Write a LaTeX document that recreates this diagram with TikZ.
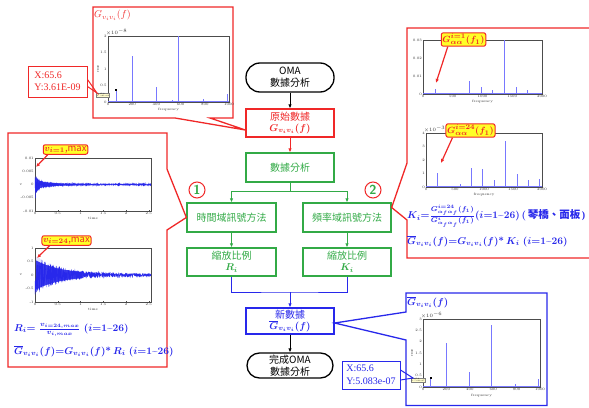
\documentclass[tikz,border=0pt]{standalone}
\usepackage{amsmath,bm}
\usepackage{fontspec}
\usetikzlibrary{arrows.meta,calc}
\newfontfamily\cjk{Noto Sans CJK TC}
\newfontfamily\tnr{Liberation Serif}
\definecolor{cR}{RGB}{240,40,40}
\definecolor{cG}{RGB}{50,170,70}
\definecolor{cB}{RGB}{40,40,235}
\definecolor{spec}{RGB}{120,120,255}
\definecolor{bub}{RGB}{255,255,40}
\tikzset{
 fbox/.style={draw, line width=1.3pt, minimum width=88pt, minimum height=28pt, align=center, inner sep=1pt, font=\cjk\fontsize{10}{12}\selectfont, fill=white},
 term/.style={fbox, rounded corners=14pt, draw=black, text=black},
 arr/.style={-{Latex[length=4pt,width=3.5pt]}, line width=1pt},
 frm/.style={line width=1.3pt, line join=miter},
 axbx/.style={draw=black!70, line width=0.4pt},
 tklab/.style={font=\fontsize{3.6}{4}\selectfont, inner sep=0.6pt, text=black!80},
 spk/.style={draw=spec, line width=0.7pt},
 bubble/.style={draw=cR, line width=1pt, fill=bub, rounded corners=2pt, text=cR, font=\cjk\fontsize{9.5}{10}\selectfont\boldmath, inner sep=1.2pt},
 circnum/.style={circle, draw=cR, line width=1pt, text=cG, minimum size=16pt, inner sep=0pt, font=\sffamily\bfseries\fontsize{13}{13}\selectfont},
 dtip/.style={line width=1pt, font=\tnr\fontsize{10}{12.5}\selectfont, align=left, inner sep=1pt, anchor=center},
 fml/.style={anchor=west, text=cB, inner sep=0pt, font=\fontsize{10}{12}\selectfont\bfseries\boldmath},
 tinytip/.style={draw=black!50, fill=yellow!20, inner sep=0.4pt, font=\fontsize{1.8}{2.2}\selectfont, align=left},
 mk/.style={fill=black, inner sep=0pt, minimum size=2pt},
}
\begin{document}
\begin{tikzpicture}[x=1pt,y=-1pt]
\useasboundingbox[fill=white] (0,0) rectangle (589,407);
\pgfmathsetseed{7}

% ---------- flow chart ----------
\node[term, minimum height=29pt] (oma) at (290,77.5) {OMA\\數據分析};
\node[fbox, draw=cR, text=cR] (raw) at (290,123) {原始數據\\[-1pt]$\bm{G_{v_iv_i}(f)}$};
\node[fbox, draw=cG, text=cG, minimum height=29pt] (ana) at (290,167.5) {數據分析};
\node[fbox, draw=cG, text=cG, minimum width=89pt, minimum height=29pt] (tdm) at (231.5,217.5) {時間域訊號方法};
\node[fbox, draw=cG, text=cG, minimum height=29pt] (fdm) at (347,217.5) {頻率域訊號方法};
\node[fbox, draw=cG, text=cG, minimum width=89pt] (scR) at (231.5,262) {縮放比例\\[-1pt]$\bm{R_i}$};
\node[fbox, draw=cG, text=cG] (scK) at (347,262) {縮放比例\\[-1pt]$\bm{K_i}$};
\node[fbox, draw=cB, text=cB, minimum height=26pt] (new) at (290,321) {新數據\\[-1pt]$\bm{\overline{G}_{v_iv_i}(f)}$};
\node[term, minimum width=86pt, minimum height=25pt, rounded corners=12.5pt] (done) at (290,365.5) {完成OMA\\數據分析};

\draw[arr] (oma) -- (raw);
\draw[arr, cR] (raw) -- (ana);
\coordinate (sp) at (290,191);
\draw[cG, line width=1pt] (ana) -- (sp);
\draw[arr, cG] (sp) -| (tdm);
\draw[arr, cG] (sp) -| (fdm);
\draw[arr, cG] (tdm) -- (scR);
\draw[arr, cG] (fdm) -- (scK);
\coordinate (jn) at (290,292);
\draw[cB, line width=1pt] (scR) |- (jn) -| (scK);
\draw[arr, cB] (jn) -- (new);
\draw[arr] (new) -- (done);

\node[circnum] (n1) at (197,190) {1};
\node[circnum] (n2) at (373,190) {2};

% ---------- callout frames ----------
\coordinate (tipA) at ($(raw.west)+(0,7)$);
\draw[frm, cR] (93,7) -- (233,7) -- (233,118) -- (210,118) -- (tipA) -- (175,118) -- (93,118) -- cycle;
\coordinate (tipB) at ($(fdm.east)+(0,-10)$);
\draw[frm, cR] (592,28) -- (407,28) -- (407,163) -- (tipB) -- (407,220) -- (407,258) -- (592,258);
\coordinate (tipC) at (tdm.west);
\draw[frm, cR] (8,133) -- (167,133) -- (167,169) -- (tipC) -- (167,230) -- (167,367) -- (8,367) -- cycle;
\coordinate (tipD) at ($(new.east)+(0,2)$);
\draw[frm, cB] (406,293) -- (547,293) -- (547,405.5) -- (406,405.5) -- (406,340) -- (tipD) -- (406,312) -- cycle;

% ---------- chart A (top left, red) ----------
\node[anchor=west, text=cR, inner sep=0pt, font=\fontsize{10}{12}\selectfont] (ttlA) at (94,15) {$G_{v_iv_i}(f)$};
\draw[axbx] (108,36) rectangle (229,102);
\foreach \f [count=\k] in {0,200,400,600,800,1000} {
  \draw[black!70, line width=0.3pt] ({108+0.121*\f},102) -- ++(0,-1.2);
  \node[tklab, anchor=north] (ax\k) at ({108+0.121*\f},102.5) {\f};}
\foreach \v [count=\k] in {0,0.5,1,1.5,2} \node[tklab, anchor=east] (ay\k) at (107.5,{102-33*\v}) {\v};
\node[tklab, anchor=south west] (ae) at (105,36) {$\times10^{-8}$};
\node[tklab, rotate=90] (ar) at (98,69) {rms};
\node[tklab] (af) at (168.5,110) {frequency};
\draw[spk, line width=0.4pt] (108,101.3) -- (229,101.3);
\foreach \f/\a in {65/0.35, 200/1.4, 400/0.45, 530/0.05, 580/2.0, 790/0.1, 985/0.25}
  \draw[spk] ({108+0.121*\f},102) -- ++(0,{-33*\a});
\node[mk] (mkA) at ({108+0.121*65},{102-33*0.35}) {};
\node[tinytip] (ttA) at (103,95) {X: 65.6\\Y: 3.61e-09};
\node[dtip, draw=cR, text=cR, minimum width=59pt, minimum height=31pt] (dtA) at (57.5,81.5) {X:65.6\\Y:3.61E-09};
\coordinate (ptA) at (97,93);
\draw[cR, line width=1pt] ($(dtA.east)+(0,-2)$) -- (ptA) -- ($(dtA.east)+(0,5)$);

% ---------- chart B (bottom right, blue) ----------
\node[anchor=west, text=cB, inner sep=0pt, font=\fontsize{10}{12}\selectfont\boldmath] (ttlB) at (407,302) {$\overline{G}_{v_iv_i}(f)$};
\draw[axbx] (423,319) rectangle (540,387);
\foreach \f [count=\k] in {0,200,400,600,800,1000} {
  \draw[black!70, line width=0.3pt] ({423+0.117*\f},387) -- ++(0,-1.2);
  \node[tklab, anchor=north] (bx\k) at ({423+0.117*\f},387.5) {\f};}
\foreach \v [count=\k] in {0,0.5,1,1.5,2,2.5,3} \node[tklab, anchor=east] (by\k) at (422.5,{387-22.67*\v}) {\v};
\node[tklab, anchor=south west] (be) at (420,319) {$\times10^{-6}$};
\node[tklab, rotate=90] (br) at (412,353) {rms};
\node[tklab] (bf) at (481.5,396) {frequency};
\draw[spk, line width=0.4pt] (423,386.3) -- (540,386.3);
\foreach \f/\a in {65/0.4, 200/1.95, 400/0.65, 530/0.05, 580/2.75, 790/0.15, 985/0.35}
  \draw[spk] ({423+0.117*\f},387) -- ++(0,{-22.67*\a});
\node[mk] (mkB) at ({423+0.117*65},{387-22.67*0.4}) {};
\node[tinytip] (ttB) at (418,380) {X: 65.6\\Y: 5.083e-07};
\node[dtip, draw=cB, text=cB, minimum width=58pt, minimum height=28pt] (dtB) at (371,375) {X:65.6\\Y:5.083e-07};
\coordinate (ptB) at (413,378);
\draw[cB, line width=1pt] ($(dtB.east)+(0,-5)$) -- (ptB) -- ($(dtB.east)+(0,5)$);

% ---------- chart C (right top) ----------
\draw[axbx] (423,40) rectangle (542,94);
\foreach \f [count=\k] in {0,500,1000,1500,2000} {
  \draw[black!70, line width=0.3pt] ({423+0.0595*\f},94) -- ++(0,-1.2);
  \node[tklab, anchor=north] (cx\k) at ({423+0.0595*\f},94.5) {\f};}
\foreach \v/\lab [count=\k] in {0/0,1/0.01,2/0.02,3/0.03} \node[tklab, anchor=east] (cy\k) at (422.5,{94-18*\v}) {\lab};
\node[tklab] (cf) at (482.5,102) {frequency};
\draw[spk, line width=0.4pt] (423,93.3) -- (542,93.3);
\foreach \f/\a in {200/3, 400/0.6, 590/0.6, 780/7.5, 980/4, 1170/2.5, 1370/30, 1570/4, 1760/2, 1960/0.8}
  \draw[spk] ({423+0.0595*\f},94) -- ++(0,{-1.8*\a});
\node[bubble] (bC) at (463.5,39.5) {$G^{i=1}_{\alpha\alpha}(f_1)$};
\draw[arr, cR, line width=1.2pt] ($(bC.south west)+(7,0)$) -- (436,83);

% ---------- chart D (right second) ----------
\draw[axbx] (426,133) rectangle (542,187);
\foreach \f [count=\k] in {0,500,1000,1500,2000} {
  \draw[black!70, line width=0.3pt] ({426+0.058*\f},187) -- ++(0,-1.2);
  \node[tklab, anchor=north] (dx\k) at ({426+0.058*\f},187.5) {\f};}
\foreach \v [count=\k] in {0,1,2,3,4} \node[tklab, anchor=east] (dy\k) at (425.5,{187-13.5*\v}) {\v};
\node[tklab, anchor=south west] (de) at (423,133) {$\times10^{-3}$};
\node[tklab] (df) at (484,195) {frequency};
\draw[spk, line width=0.4pt] (426,186.3) -- (542,186.3);
\foreach \f/\a in {200/1.05, 400/0.1, 590/0.2, 780/1.4, 980/1.3, 1170/0.5, 1370/3.4, 1570/1.0, 1760/0.5, 1960/0.6}
  \draw[spk] ({426+0.058*\f},187) -- ++(0,{-13.5*\a});
\node[bubble] (bD) at (470.5,130.5) {$G^{i=24}_{\alpha\alpha}(f_1)$};
\draw[arr, cR, line width=1.2pt] ($(bD.south west)+(7,0)$) -- (441,163);

% ---------- right formulas ----------
\node[fml] (fK) at (407,216) {$K_i{=}\frac{G^{i=24}_{\alpha_f\alpha_f}(f_1)}{G^{i}_{\alpha_f\alpha_f}(f_1)}(i{=}1\textbf{\textasciitilde}26)\,($\,{\cjk\fontsize{10.5}{12}\selectfont 琴橋、面板}\,\tnr\bfseries)};
\node[fml] (fGK) at (407,241) {$\overline{G}_{v_iv_i}(f){=}G_{v_iv_i}(f)\textbf{*}\,K_i\;(i{=}1\textbf{\textasciitilde}26)$};

% ---------- chart E (left time 1) ----------
\draw[axbx] (35,158) rectangle (151,211);
\foreach \t [count=\k] in {0,0.5,1,1.5,2,2.5} {
  \draw[black!70, line width=0.3pt] ({35+45.5*\t},211) -- ++(0,-1.2);
  \node[tklab, anchor=north] (ex\k) at ({35+45.5*\t},211.5) {\t};}
\foreach \v/\lab [count=\k] in {2/0.01,1/0.005,0/0,-1/-0.005,-2/-0.01} \node[tklab, anchor=east] (ey\k) at (34.5,{184.5-13.25*\v}) {\lab};
\node[tklab] (ev) at (21,184.5) {v};
\node[tklab] (et) at (93,218) {time};
\fill[cB!90] plot[domain=0.02:1.2, samples=60] ({35+45.5*\x}, {184.5-0.75*(10*exp(-30*\x)+5.5*exp(-3.5*\x)+0.7)})
  -- plot[domain=1.2:0.02, samples=60] ({35+45.5*\x}, {184.5+0.75*(10*exp(-30*\x)+5.5*exp(-3.5*\x)+0.7)}) -- cycle;
\draw[cB, line width=0.3pt] plot[domain=0:2.55, samples=1000] ({35+45.5*\x}, {184.5+(10*exp(-30*\x)+5.5*exp(-3.5*\x)+0.7)*rand});
\node[bubble] (bE) at (65.5,149.5) {$v_{i=1}$,max};
\draw[arr, cR, line width=1.2pt] ($(bE.south west)+(5,0)$) -- (36,167);

% ---------- chart F (left time 2) ----------
\draw[axbx] (35,248) rectangle (151,302);
\foreach \t [count=\k] in {0,0.5,1,1.5,2,2.5} {
  \draw[black!70, line width=0.3pt] ({35+45.5*\t},302) -- ++(0,-1.2);
  \node[tklab, anchor=north] (fx\k) at ({35+45.5*\t},302.5) {\t};}
\foreach \v [count=\k] in {1,0.5,0,-0.5,-1} \node[tklab, anchor=east] (fy\k) at (34.5,{275-27*\v}) {\v};
\node[tklab] (fv) at (21,275) {v};
\node[tklab] (ft) at (93,309) {time};
\fill[cB!90] plot[domain=0.02:1.05, samples=60] ({35+45.5*\x}, {275-0.75*(19*exp(-1.8*\x)+1.2)})
  -- plot[domain=1.05:0.02, samples=60] ({35+45.5*\x}, {275+0.75*(19*exp(-1.8*\x)+1.2)}) -- cycle;
\draw[cB, line width=0.3pt] plot[domain=0:2.55, samples=1000] ({35+45.5*\x}, {275+(19*exp(-1.8*\x)+1.2)*rand});
\node[bubble] (bF) at (66.5,240.5) {$v_{i=24}$,max};
\draw[arr, cR, line width=1.2pt] ($(bF.south west)+(8,0)$) -- (37,258);

% ---------- left formulas ----------
\node[fml] (fR) at (14,330) {$R_i{=}\;\frac{v_{i=24,max}}{v_{i,max}}\;(i{=}1\textbf{\textasciitilde}26)$};
\node[fml] (fGR) at (14,351) {$\overline{G}_{v_iv_i}(f){=}G_{v_iv_i}(f)\textbf{*}\,R_i\;(i{=}1\textbf{\textasciitilde}26)$};
\end{tikzpicture}
\end{document}
